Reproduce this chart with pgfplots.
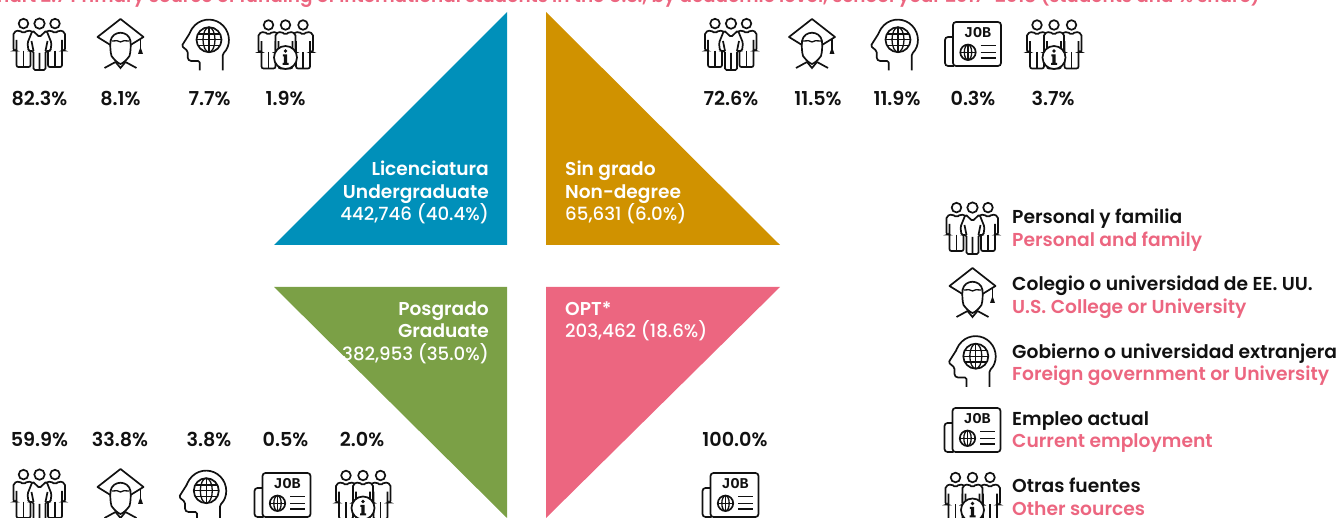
\documentclass[border=0pt]{standalone}
\usepackage{fontspec}
\setmainfont{Poppins Medium}[BoldFont={Poppins SemiBold}]
\newfontfamily\jobfont{Liberation Mono}
\usepackage{pgfplots}
\usepackage{pgfplotstable}
\pgfplotsset{compat=1.18}
\definecolor{cblue}{HTML}{0090BA}
\definecolor{cgold}{HTML}{D09200}
\definecolor{cgreen}{HTML}{7BA046}
\definecolor{cpink}{HTML}{EC6680}
\definecolor{ink}{HTML}{111111}

% icons, in pixels around their centre, y pointing down
\newcommand{\man}[2]{% x of body centre, y of head
  \draw[fill=white] (#1,#2) circle (4.8);
  \draw[rounded corners=2,fill=white] (#1-4,#2+6.5) -- (#1-10,#2+8.5) -- (#1-10,#2+27) -- (#1-7,#2+27) -- (#1-7,#2+15)
    -- (#1-7,#2+43.5) -- (#1+7,#2+43.5) -- (#1+7,#2+15) -- (#1+7,#2+27) -- (#1+10,#2+27) -- (#1+10,#2+8.5) -- (#1+4,#2+6.5) -- (#1,#2+10) -- cycle;
  \draw (#1,#2+27) -- (#1,#2+43.5);
}
\newcommand{\globe}[3]{% x, y, radius
  \draw (#1,#2) circle (#3);
  \draw[line width=1.3pt] (#1,#2) ellipse ({0.48*#3} and #3);
  \draw[line width=1.3pt] (#1-#3,#2) -- (#1+#3,#2);
  \draw[line width=1.3pt] (#1,#2-#3) -- (#1,#2+#3);
}
\newcommand{\iconpeople}{
  \man{-16}{-20.4}
  \man{15.5}{-20.4}
  \draw[fill=white,rounded corners=1.5] (-7,-13.5) -- (0,-7) -- (7,-13.5) -- (12,-1) -- (11,7) -- (6,7) -- (6,26) -- (-6,26) -- (-6,7) -- (-11,7) -- (-12,-1) -- cycle;
  \draw (0,9) -- (0,26) (-8,-3) -- (-6,7) (8,-3) -- (6,7);
  \draw[fill=white] (0,-20.4) circle (5.2);
}
\newcommand{\icongrad}{
  \draw[line join=round] (-10,1) -- (-23,-7) -- (0,-25) -- (23,-7) -- (10,1);
  \draw (-10,-3) .. controls (-8,-14) and (8,-14) .. (10,-3) .. controls (10.5,4) and (10,8) .. (9,12) .. controls (6,16) and (3,19) .. (0,20) .. controls (-3,19) and (-6,16) .. (-9,12) .. controls (-10,8) and (-10.5,4) .. (-10,-3);
  \draw[line width=1.3pt] (-9,-3) .. controls (-4,-3) and (-2,-4) .. (0,-2) .. controls (2,-4) and (4,-3) .. (9,-3);
  \draw (-16,24) -- (-5,18) (16,24) -- (5,18) (-5,18) -- (0,24) -- (5,18);
  \draw (20,-5) -- (20,5);
  \fill (20,3) -- (22.5,10) -- (17.5,10) -- cycle;
}
\newcommand{\iconhead}{
  \draw[line join=round,rounded corners=1.5] (17,26.5) -- (17,10) arc (46:-161:20) -- (-24,2) -- (-18,7) -- (-18,15) -- (-16,17) -- (-6,17) -- (-6,26.5);
  \globe{3.3}{-4.3}{12.5}
  \draw[line width=1.3pt] (3.3-11.2,-10) -- (3.3+11.2,-10) (3.3-11.2,1.4) -- (3.3+11.2,1.4);
}
\newcommand{\iconjob}{
  \draw[rounded corners=3,fill=white] (-19,-7) -- (-28,-7) -- (-28,22) -- (-19,22);
  \draw[rounded corners=3,fill=white] (-20,22) -- (28,22) -- (28,-22) -- (-20,-22) -- cycle;
  \node[inner sep=0,font=\jobfont\fontsize{15}{15}\selectfont\bfseries] at (4.5,-11) {JOB};
  \globe{-5}{8.3}{7.7}
  \draw[line width=1.3pt] (7.5,1.7) -- (22.5,1.7) (7.5,8.3) -- (22.5,8.3) (7.5,14) -- (22.5,14);
}
\newcommand{\iconinfo}{
  \man{-17}{-19.5}
  \man{17.5}{-19.5}
  \man{0}{-19.5}
  \draw[fill=white] (0,13) circle (11.5);
  \fill (0,6.5) circle (1.9);
  \fill (-2.6,10) -- (1.6,10) -- (1.6,18.5) -- (3,18.5) -- (3,20.5) -- (-3,20.5) -- (-3,18.5) -- (-1.6,18.5) -- (-1.6,12) -- (-2.6,12) -- cycle;
}
\newcommand{\ico}[3]{%
  \begin{scope}[shift={(#2pt,{518pt-#3pt})},yscale=-1,x=1pt,y=1pt,line width=1.7pt,draw=ink,fill=ink,ink]
    #1
  \end{scope}}

\begin{document}
\begin{tikzpicture}
\path[use as bounding box,clip] (0,0) rectangle (1342pt,518pt);
\begin{axis}[
    at={(0,0)}, anchor=south west,
    scale only axis, width=1342pt, height=518pt,
    xmin=0, xmax=1342, ymin=0, ymax=518,
    y dir=reverse, hide axis, clip=false
  ]
  % triangles
  \addplot[fill=cblue, draw=none] coordinates {(507,12) (507,245) (274,245) (507,12)};
  \addplot[fill=cgold, draw=none] coordinates {(546,12) (546,245) (780,245) (546,12)};
  \addplot[fill=cgreen, draw=none] coordinates {(274,287) (507,287) (507,518) (274,287)};
  \addplot[fill=cpink, draw=none] coordinates {(546,287) (780,287) (546,518) (546,287)};

  % shares
  \addplot[draw=none, point meta=explicit symbolic,
    nodes near coords={\pgfplotspointmeta\%},
    every node near coord/.append style={anchor=center, inner sep=0pt, text height=13pt, text depth=0pt, text=ink, font=\fontsize{19.2}{19.2}\selectfont\bfseries}]
    table[meta=v] {
    x y v
    39.5 99 82.3
    120.5 99 8.1
    209.5 99 7.7
    285.5 99 1.9
    731 99 72.6
    818 99 11.5
    897 99 11.9
    973 99 0.3
    1053 99 3.7
    39.5 440 59.9
    120 440 33.8
    209 440 3.8
    285.5 440 0.5
    362 440 2.0
    735 440 100.0
  };

  \node[anchor=base east, inner sep=0, text=cpink, font=\fontsize{18.4}{18.4}\selectfont\bfseries] at (axis cs:1260,3) {Chart 2.7 Primary source of funding of international students in the U.S., by academic level, school year 2017-2018 (students and \% share)};

  \begin{scope}[every node/.style={inner sep=0, text=white, font=\fontsize{18.2}{18.2}\selectfont}]
    \node[anchor=base east] at (axis cs:489,176) {\fontsize{18.6}{18.6}\selectfont\bfseries Licenciatura};
    \node[anchor=base east] at (axis cs:489,199) {\fontsize{18.6}{18.6}\selectfont\bfseries Undergraduate};
    \node[anchor=base east] at (axis cs:489,221) {442,746 (40.4\%)};
    \node[anchor=base west] at (axis cs:565,176) {\fontsize{18.6}{18.6}\selectfont\bfseries Sin grado};
    \node[anchor=base west] at (axis cs:565,199) {\fontsize{18.6}{18.6}\selectfont\bfseries Non-degree};
    \node[anchor=base west] at (axis cs:565,221) {65,631 (6.0\%)};
    \node[anchor=base east] at (axis cs:489,316) {\fontsize{18.6}{18.6}\selectfont\bfseries Posgrado};
    \node[anchor=base east] at (axis cs:489,338) {\fontsize{18.6}{18.6}\selectfont\bfseries Graduate};
    \node[anchor=base east] at (axis cs:489,361) {382,953 (35.0\%)};
    \node[anchor=base west] at (axis cs:565,316) {\fontsize{18.6}{18.6}\selectfont\bfseries OPT*};
    \node[anchor=base west] at (axis cs:565,338) {203,462 (18.6\%)};
  \end{scope}

  \begin{scope}[every node/.style={inner sep=0, anchor=base west, font=\fontsize{18.7}{18.7}\selectfont\bfseries}]
    \node[text=ink] at (axis cs:1012,224) {Personal y familia};
    \node[text=cpink] at (axis cs:1012,247) {Personal and family};
    \node[text=ink] at (axis cs:1012,291) {Colegio o universidad de EE. UU.};
    \node[text=cpink] at (axis cs:1012,314) {U.S. College or University};
    \node[text=ink] at (axis cs:1012,359) {Gobierno o universidad extranjera};
    \node[text=cpink] at (axis cs:1012,381) {Foreign government or University};
    \node[text=ink] at (axis cs:1012,426) {Empleo actual};
    \node[text=cpink] at (axis cs:1012,448) {Current employment};
    \node[text=ink] at (axis cs:1012,493) {Otras fuentes};
    \node[text=cpink] at (axis cs:1012,515) {Other sources};
  \end{scope}
\end{axis}
% top left
\ico{\iconpeople}{39.5}{44}
\ico{\icongrad}{120.5}{44}
\ico{\iconhead}{205.7}{44}
\ico{\iconinfo}{285.5}{44.5}
% top right
\ico{\iconpeople}{731}{44}
\ico{\icongrad}{812}{44}
\ico{\iconhead}{894.7}{44}
\ico{\iconjob}{973}{44}
\ico{\iconinfo}{1054}{44.5}
% bottom left
\ico{\iconpeople}{39.5}{495}
\ico{\icongrad}{120.5}{494}
\ico{\iconhead}{203}{495}
\ico{\iconjob}{282.5}{495}
\ico{\iconinfo}{363}{495}
% bottom right
\ico{\iconjob}{730.5}{495}
% legend
\ico{\iconpeople}{972.5}{228}
\ico{\icongrad}{972.5}{293}
\ico{\iconhead}{972.5}{360.5}
\ico{\iconjob}{972.5}{430}
\ico{\iconinfo}{972.5}{497}
\end{tikzpicture}
\end{document}
